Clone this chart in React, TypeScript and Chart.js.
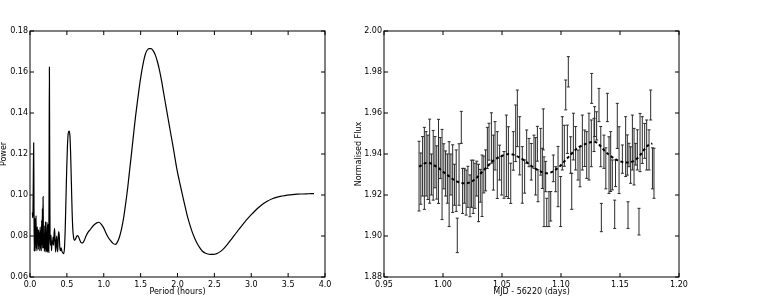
import React, { useEffect, useRef } from "react";
import { Chart, registerables } from "chart.js";

Chart.register(...registerables);

// ---------- Left panel: periodogram ----------
const periodHours = [
  0.033, 0.036, 0.040, 0.045, 0.050, 0.054, 0.058, 0.062, 0.066, 0.070,
  0.074, 0.078, 0.082, 0.086, 0.090, 0.094, 0.098, 0.103, 0.108, 0.113,
  0.118, 0.123, 0.128, 0.133, 0.138, 0.143, 0.148, 0.153, 0.158, 0.163,
  0.168, 0.172, 0.177, 0.181, 0.185, 0.190, 0.195, 0.200, 0.205, 0.210,
  0.215, 0.220, 0.225, 0.230, 0.235, 0.240, 0.245, 0.250, 0.255, 0.259,
  0.263, 0.267, 0.272, 0.278, 0.285, 0.292, 0.299, 0.306, 0.313, 0.320,
  0.327, 0.334, 0.341, 0.348, 0.355, 0.362, 0.369, 0.376, 0.383, 0.390,
  0.397, 0.404, 0.413, 0.422, 0.432, 0.445, 0.458, 0.468, 0.478, 0.488,
  0.498, 0.508, 0.518, 0.530, 0.541, 0.551, 0.561, 0.571, 0.581, 0.592,
  0.604, 0.618, 0.632, 0.646, 0.662, 0.678, 0.696, 0.714, 0.735, 0.760,
  0.786, 0.814, 0.845, 0.875, 0.905, 0.935, 0.965, 0.995, 1.023, 1.057,
  1.090, 1.125, 1.158, 1.185, 1.213, 1.242, 1.271, 1.298, 1.326, 1.350,
  1.376, 1.403, 1.430, 1.460, 1.489, 1.516, 1.543, 1.565, 1.588, 1.615,
  1.643, 1.672, 1.701, 1.728, 1.756, 1.785, 1.814, 1.843, 1.873, 1.905,
  1.937, 1.966, 1.995, 2.029, 2.063, 2.097, 2.131, 2.165, 2.199, 2.233,
  2.267, 2.301, 2.335, 2.380, 2.425, 2.465, 2.502, 2.543, 2.584, 2.630,
  2.674, 2.730, 2.787, 2.845, 2.900, 2.957, 3.014, 3.080, 3.149, 3.217,
  3.285, 3.353, 3.421, 3.489, 3.557, 3.625, 3.692, 3.770, 3.851,
];
const powerValues = [
  0.0915, 0.0890, 0.0905, 0.1080, 0.1255, 0.0960, 0.0725, 0.0890, 0.0770, 0.0728,
  0.0885, 0.0760, 0.0900, 0.0740, 0.0810, 0.0728, 0.0845, 0.0770, 0.0830, 0.0735,
  0.0830, 0.0755, 0.0815, 0.0728, 0.0845, 0.0740, 0.0825, 0.0728, 0.0875, 0.0760,
  0.0935, 0.0740, 0.0992, 0.0830, 0.0742, 0.0805, 0.0725, 0.0850, 0.0735, 0.0870,
  0.0722, 0.0805, 0.0728, 0.0868, 0.0720, 0.0855, 0.0728, 0.0860, 0.0720, 0.1150,
  0.1624, 0.1180, 0.0790, 0.0755, 0.0805, 0.0728, 0.0775, 0.0760, 0.0795, 0.0755,
  0.0815, 0.0836, 0.0765, 0.0722, 0.0775, 0.0800, 0.0745, 0.0722, 0.0795, 0.0822,
  0.0800, 0.0745, 0.0728, 0.0742, 0.0726, 0.0718, 0.0714, 0.0745, 0.0840, 0.0985,
  0.1130, 0.1240, 0.1300, 0.1312, 0.1290, 0.1200, 0.1060, 0.0920, 0.0830, 0.0790,
  0.0779, 0.0786, 0.0798, 0.0802, 0.0793, 0.0778, 0.0767, 0.0766, 0.0778, 0.0800,
  0.0818, 0.0830, 0.0845, 0.0856, 0.0864, 0.0867, 0.0858, 0.0842, 0.0820, 0.0795,
  0.0779, 0.0764, 0.0759, 0.0770, 0.0795, 0.0836, 0.0892, 0.0960, 0.1039, 0.1118,
  0.1202, 0.1292, 0.1380, 0.1465, 0.1543, 0.1605, 0.1657, 0.1688, 0.1706, 0.1714,
  0.1714, 0.1703, 0.1681, 0.1650, 0.1608, 0.1555, 0.1494, 0.1434, 0.1372, 0.1306,
  0.1242, 0.1180, 0.1120, 0.1062, 0.1007, 0.0953, 0.0901, 0.0858, 0.0820, 0.0789,
  0.0763, 0.0743, 0.0727, 0.0716, 0.0711, 0.0710, 0.0711, 0.0716, 0.0725, 0.0740,
  0.0758, 0.0784, 0.0811, 0.0838, 0.0863, 0.0887, 0.0909, 0.0933, 0.0954, 0.0970,
  0.0982, 0.0990, 0.0995, 0.0999, 0.1002, 0.1004, 0.1005, 0.1006, 0.1007,
];

// ---------- Right panel: light curve ----------
const obsTime = [
  0.9797, 0.9812, 0.9827, 0.9842, 0.9857, 0.9872, 0.9887, 0.9902, 0.9917, 0.9932,
  0.9947, 0.9962, 0.9977, 0.9992, 1.0007, 1.0022, 1.0037, 1.0052, 1.0067, 1.0082,
  1.0097, 1.0112, 1.0121, 1.0136, 1.0155, 1.0166, 1.0181, 1.0196, 1.0211, 1.0229,
  1.0241, 1.0256, 1.0271, 1.0286, 1.0301, 1.0316, 1.0331, 1.0346, 1.0361, 1.0376,
  1.0390, 1.0410, 1.0427, 1.0441, 1.0460, 1.0480, 1.0497, 1.0517, 1.0537, 1.0554,
  1.0574, 1.0596, 1.0616, 1.0630, 1.0650, 1.0672, 1.0692, 1.0709, 1.0729, 1.0748,
  1.0771, 1.0785, 1.0800, 1.0805, 1.0828, 1.0842, 1.0850, 1.0856, 1.0870, 1.0879,
  1.0898, 1.0913, 1.0935, 1.0955, 1.0975, 1.0997, 1.1011, 1.1028, 1.1040, 1.1054,
  1.1062, 1.1082, 1.1091, 1.1105, 1.1124, 1.1144, 1.1161, 1.1181, 1.1201, 1.1218,
  1.1237, 1.1257, 1.1260, 1.1280, 1.1285, 1.1302, 1.1322, 1.1337, 1.1342, 1.1364,
  1.1380, 1.1393, 1.1407, 1.1421, 1.1435, 1.1455, 1.1462, 1.1477, 1.1492, 1.1520,
  1.1548, 1.1562, 1.1568, 1.1576, 1.1590, 1.1605, 1.1619, 1.1633, 1.1647, 1.1661,
  1.1670, 1.1689, 1.1709, 1.1726, 1.1746, 1.1760, 1.1775, 1.1788,
];
const obsFlux = [
  1.9292, 1.9280, 1.9340, 1.9330, 1.9352, 1.9335, 1.9365, 1.9300, 1.9345, 1.9360,
  1.9310, 1.9364, 1.9380, 1.9300, 1.9340, 1.9305, 1.9280, 1.9253, 1.9300, 1.9280,
  1.9250, 1.9270, 1.9003, 1.9300, 1.9530, 1.9220, 1.9245, 1.9212, 1.9240, 1.9196,
  1.9255, 1.9240, 1.9245, 1.9280, 1.9210, 1.9245, 1.9245, 1.9300, 1.9320, 1.9430,
  1.9460, 1.9478, 1.9358, 1.9440, 1.9346, 1.9358, 1.9294, 1.9298, 1.9391, 1.9358,
  1.9257, 1.9415, 1.9501, 1.9574, 1.9440, 1.9298, 1.9290, 1.9436, 1.9407, 1.9362,
  1.9411, 1.9340, 1.9450, 1.9245, 1.9411, 1.9330, 1.9520, 1.9216, 1.9290, 1.9115,
  1.9131, 1.9145, 1.9330, 1.9277, 1.9290, 1.9168, 1.9452, 1.9440, 1.9688, 1.9472,
  1.9801, 1.9395, 1.9218, 1.9485, 1.9428, 1.9346, 1.9338, 1.9456, 1.9428, 1.9395,
  1.9436, 1.9452, 1.9720, 1.9493, 1.9558, 1.9537, 1.9639, 1.9436, 1.9090, 1.9411,
  1.9330, 1.9627, 1.9346, 1.9363, 1.9298, 1.9106, 1.9306, 1.9537, 1.9370, 1.9375,
  1.9436, 1.9395, 1.9102, 1.9395, 1.9346, 1.9456, 1.9387, 1.9399, 1.9420, 1.9070,
  1.9456, 1.9468, 1.9464, 1.9444, 1.9420, 1.9639, 1.9330, 1.9306,
];
const obsErr = [
  0.0170, 0.0125, 0.0145, 0.0200, 0.0157, 0.0157, 0.0205, 0.0100, 0.0170, 0.0125,
  0.0130, 0.0205, 0.0100, 0.0220, 0.0110, 0.0110, 0.0120, 0.0207, 0.0100, 0.0165,
  0.0100, 0.0150, 0.0084, 0.0150, 0.0078, 0.0110, 0.0085, 0.0110, 0.0100, 0.0102,
  0.0115, 0.0130, 0.0110, 0.0085, 0.0140, 0.0080, 0.0150, 0.0090, 0.0100, 0.0100,
  0.0090, 0.0123, 0.0134, 0.0118, 0.0163, 0.0085, 0.0094, 0.0114, 0.0199, 0.0175,
  0.0098, 0.0094, 0.0138, 0.0138, 0.0142, 0.0138, 0.0081, 0.0081, 0.0069, 0.0089,
  0.0081, 0.0140, 0.0085, 0.0078, 0.0114, 0.0098, 0.0100, 0.0170, 0.0074, 0.0069,
  0.0085, 0.0072, 0.0065, 0.0061, 0.0147, 0.0122, 0.0130, 0.0100, 0.0073, 0.0069,
  0.0074, 0.0089, 0.0088, 0.0114, 0.0106, 0.0073, 0.0098, 0.0134, 0.0089, 0.0114,
  0.0163, 0.0114, 0.0073, 0.0081, 0.0073, 0.0069, 0.0081, 0.0098, 0.0069, 0.0081,
  0.0100, 0.0069, 0.0138, 0.0146, 0.0073, 0.0069, 0.0065, 0.0110, 0.0163, 0.0069,
  0.0146, 0.0098, 0.0065, 0.0057, 0.0089, 0.0134, 0.0138, 0.0053, 0.0098, 0.0065,
  0.0142, 0.0114, 0.0085, 0.0122, 0.0098, 0.0073, 0.0100, 0.0122,
];
const modelTime = [
  0.9797, 0.9867, 0.9952, 1.0036, 1.0121, 1.0192, 1.0263, 1.0347, 1.0432, 1.0517,
  1.0560, 1.0602, 1.0686, 1.0771, 1.0884, 1.0969, 1.1053, 1.1138, 1.1223, 1.1280,
  1.1392, 1.1477, 1.1562, 1.1647, 1.1731, 1.1774,
];
const modelFlux = [
  1.9338, 1.9358, 1.9335, 1.9298, 1.9265, 1.9257, 1.9273, 1.9322, 1.9370, 1.9395,
  1.9400, 1.9395, 1.9370, 1.9333, 1.9306, 1.9330, 1.9379, 1.9428, 1.9452, 1.9460,
  1.9403, 1.9370, 1.9358, 1.9379, 1.9439, 1.9452,
];

const FONT = "'DejaVu Sans', sans-serif";
const FS = 8;

const framePlugin = {
  id: "frameTicks",
  afterDraw(chart: any) {
    const { ctx, chartArea: a, scales } = chart;
    const xs = scales.x;
    const ys = scales.y;
    ctx.save();
    ctx.strokeStyle = "#000";
    ctx.lineWidth = 1;
    ctx.strokeRect(a.left, a.top, a.right - a.left, a.bottom - a.top);
    ctx.beginPath();
    xs.ticks.forEach((_t: any, i: number) => {
      const px = xs.getPixelForTick(i);
      ctx.moveTo(px, a.bottom);
      ctx.lineTo(px, a.bottom - 4);
      ctx.moveTo(px, a.top);
      ctx.lineTo(px, a.top + 4);
    });
    ys.ticks.forEach((_t: any, i: number) => {
      const py = ys.getPixelForTick(i);
      ctx.moveTo(a.left, py);
      ctx.lineTo(a.left + 4, py);
      ctx.moveTo(a.right, py);
      ctx.lineTo(a.right - 4, py);
    });
    ctx.stroke();
    ctx.restore();
  },
};

const errorBarPlugin = {
  id: "errorBars",
  beforeDatasetsDraw(chart: any) {
    const { ctx, scales } = chart;
    const xs = scales.x;
    const ys = scales.y;
    const ds = chart.data.datasets[1];
    ctx.save();
    ctx.strokeStyle = "#2a2a2a";
    ctx.lineWidth = 1;
    ds.data.forEach((p: any, i: number) => {
      const px = xs.getPixelForValue(p.x);
      const top = ys.getPixelForValue(p.y + obsErr[i]);
      const bot = ys.getPixelForValue(p.y - obsErr[i]);
      ctx.beginPath();
      ctx.moveTo(px, top);
      ctx.lineTo(px, bot);
      ctx.stroke();
      ctx.beginPath();
      ctx.moveTo(px - 1.5, top);
      ctx.lineTo(px + 1.5, top);
      ctx.moveTo(px - 1.5, bot);
      ctx.lineTo(px + 1.5, bot);
      ctx.stroke();
    });
    ctx.restore();
  },
};

function axisOptions(
  min: number,
  max: number,
  step: number,
  digits: number,
  title: string,
  horizontal: boolean,
  fitSize: number,
  titlePad: number
) {
  return {
    type: "linear",
    min,
    max,
    grid: { display: false, drawTicks: false },
    border: { display: false },
    ticks: {
      stepSize: step,
      autoSkip: false,
      maxRotation: 0,
      padding: horizontal ? 3 : 2,
      color: "#000",
      font: { family: FONT, size: FS },
      callback: (v: any) => Number(v).toFixed(digits),
    },
    title: {
      display: true,
      text: title,
      color: "#000",
      font: { family: FONT, size: FS, lineHeight: 1 },
      padding: horizontal ? { top: 0, bottom: titlePad } : { top: titlePad, bottom: 0 },
    },
    afterFit: (s: any) => {
      if (horizontal) s.height = fitSize;
      else s.width = fitSize;
    },
  };
}

function PeriodogramChart() {
  const ref = useRef<HTMLCanvasElement | null>(null);
  useEffect(() => {
    if (!ref.current) return;
    const chart = new Chart(ref.current, {
      type: "line",
      data: {
        datasets: [
          {
            data: periodHours.map((h, i) => ({ x: h, y: powerValues[i] })),
            borderColor: "#000",
            borderWidth: 1.2,
            pointRadius: 0,
            fill: false,
            cubicInterpolationMode: "monotone",
          },
        ],
      },
      options: {
        responsive: false,
        animation: false,
        events: [],
        layout: { padding: { left: 0, top: 31, right: 15, bottom: 0 } },
        plugins: { legend: { display: false }, tooltip: { enabled: false } },
        scales: {
          x: axisOptions(0, 4, 0.5, 1, "Period (hours)", true, 31, 11.6),
          y: axisOptions(0.06, 0.18, 0.02, 2, "Power", false, 30, 0),
        } as any,
      },
      plugins: [framePlugin],
    } as any);
    return () => chart.destroy();
  }, []);
  return <canvas ref={ref} width={340} height={308} style={{ position: "absolute", left: 0, top: 0 }} />;
}

function LightCurveChart() {
  const ref = useRef<HTMLCanvasElement | null>(null);
  useEffect(() => {
    if (!ref.current) return;
    const chart = new Chart(ref.current, {
      type: "line",
      data: {
        datasets: [
          {
            type: "line",
            data: modelTime.map((t, i) => ({ x: t, y: modelFlux[i] })),
            borderColor: "#000",
            borderWidth: 2,
            borderDash: [3, 2.5],
            pointRadius: 0,
            fill: false,
            cubicInterpolationMode: "monotone",
          },
          {
            type: "scatter",
            data: obsTime.map((t, i) => ({ x: t, y: obsFlux[i] })),
            pointRadius: 0,
            showLine: false,
          },
        ],
      },
      options: {
        responsive: false,
        animation: false,
        events: [],
        layout: { padding: { left: 0, top: 31, right: 84, bottom: 0 } },
        plugins: { legend: { display: false }, tooltip: { enabled: false } },
        scales: {
          x: axisOptions(0.95, 1.2, 0.05, 2, "MJD - 56220 (days)", true, 31, 11.6),
          y: axisOptions(1.88, 2.0, 0.02, 2, "Normalised Flux", false, 44, 15.1),
        } as any,
      },
      plugins: [errorBarPlugin, framePlugin],
    } as any);
    return () => chart.destroy();
  }, []);
  return <canvas ref={ref} width={423} height={308} style={{ position: "absolute", left: 340, top: 0 }} />;
}

export default function App() {
  return (
    <div style={{ position: "fixed", left: 0, top: 0, width: 763, height: 308, background: "#fff", overflow: "hidden" }}>
      <PeriodogramChart />
      <LightCurveChart />
    </div>
  );
}
